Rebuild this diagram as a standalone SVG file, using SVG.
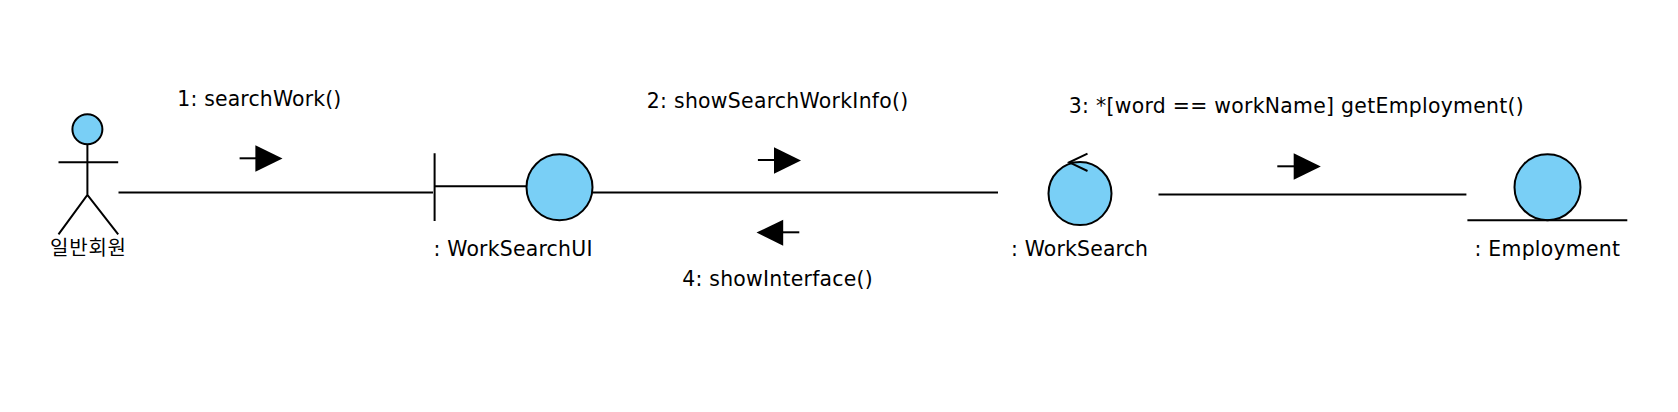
<svg xmlns="http://www.w3.org/2000/svg" width="1678" height="412" viewBox="0 0 1678 412">
<style>
text{font-family:"DejaVu Sans","Noto Sans CJK KR",sans-serif;font-size:20.4px;fill:#000}
text.k{font-family:"Noto Sans CJK KR",sans-serif;font-size:20px}
.s{stroke:#000;stroke-width:2;fill:none}
.f{fill:#79CFF6;stroke:#000;stroke-width:2}
.a{fill:#000;stroke:none}
</style>
<rect width="1678" height="412" fill="#fff"/>
<g id="connectors">
<path class="s" d="M118.5 192.6H433"/>
<path class="s" d="M593 192.6H998"/>
<path class="s" d="M1158.5 194.4H1466.4"/>
</g>
<g id="actor">
<ellipse class="f" cx="87.4" cy="129.3" rx="15" ry="15"/>
<path class="s" d="M87.4 144.3V195M58.5 162.3H118.2M58.5 234.3L87.4 195L118.2 234.3"/>
<text class="k" x="88" y="254.5" text-anchor="middle" textLength="76">일반회원</text>
</g>
<g id="workSearchUI">
<path class="s" d="M434.6 153.3V221M434.6 186.3H526"/>
<ellipse class="f" cx="559.5" cy="187.3" rx="33" ry="33"/>
<text x="433.4" y="255.6" textLength="159">: WorkSearchUI</text>
</g>
<g id="workSearch">
<ellipse class="f" cx="1080" cy="193.6" rx="31.5" ry="31.5"/>
<path class="s" d="M1087.5 153.7L1069.3 162.3L1087.5 171"/>
<text x="1011" y="256" textLength="137">: WorkSearch</text>
</g>
<g id="employment">
<ellipse class="f" cx="1547.5" cy="187.2" rx="33" ry="33"/>
<path class="s" d="M1467.4 220.3H1627.3"/>
<text x="1474.5" y="256" textLength="145.5">: Employment</text>
</g>
<g id="messages">
<text x="177.3" y="106" textLength="164">1: searchWork()</text>
<path class="s" d="M239.6 158.3H256"/><path class="a" d="M255.4 145.3L282.5 158.4L255.4 171.7Z"/>
<text x="646.8" y="108" textLength="261.5">2: showSearchWorkInfo()</text>
<path class="s" d="M757.9 160H775"/><path class="a" d="M774 147.3L801 160.4L774 173.7Z"/>
<text x="1068.8" y="113.4" textLength="455">3: *[word == workName] getEmployment()</text>
<path class="s" d="M1277.3 166.3H1294"/><path class="a" d="M1293.7 153.3L1320.8 166.4L1293.7 179.7Z"/>
<path class="s" d="M799.3 232.3H782"/><path class="a" d="M783.2 219.7L756.5 232.6L783.2 245.7Z"/>
<text x="682.2" y="286" textLength="190.6">4: showInterface()</text>
</g>
</svg>
